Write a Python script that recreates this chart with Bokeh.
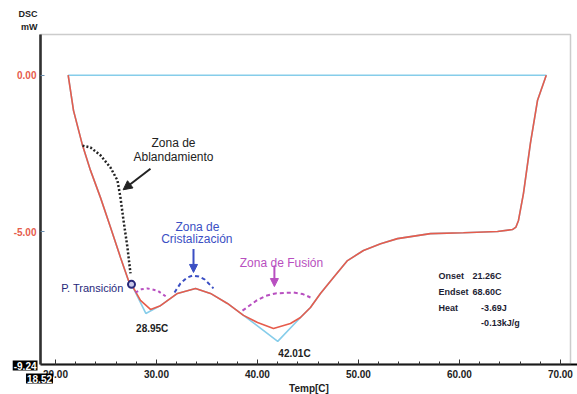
from bokeh.plotting import figure
from bokeh.models import FixedTicker, PrintfTickFormatter, Label, Arrow, NormalHead, Range1d, BoxAnnotation
from bokeh.embed import file_html
from bokeh.resources import INLINE

# ---- measured DSC curve (Temp [C], mW) ----
temp_dsc = [21.26, 21.79, 22.68, 23.47, 24.46, 25.45, 26.44, 27.23, 27.53, 28.42, 29.41, 30.40,
            32.08, 33.87, 35.35, 37.03, 38.62, 40.01, 41.59, 43.27, 44.26, 45.25, 46.24, 47.53,
            48.92, 50.50, 52.20, 53.87, 57.13, 60.40, 63.77, 65.25, 65.60, 65.85, 66.34, 67.03, 67.73, 68.60]
dsc_mw = [0.00, -1.13, -2.24, -3.04, -3.91, -4.86, -5.82, -6.56, -6.68, -7.19, -7.48, -7.36,
          -6.97, -6.81, -6.97, -7.29, -7.67, -7.90, -8.09, -7.93, -7.74, -7.42, -6.97, -6.46,
          -5.92, -5.60, -5.38, -5.22, -5.06, -5.03, -4.99, -4.93, -4.85, -4.64, -3.78, -2.18, -0.81, 0.00]

# ---- baseline / tangent construction (blue) ----
temp_base = [21.26, 21.79, 22.68, 23.47, 24.46, 25.45, 26.44, 27.23, 27.53, 28.95, 30.40, 32.08,
             33.87, 35.35, 37.03, 38.62, 42.01, 44.26, 45.25, 46.24, 47.53, 48.92, 50.50, 52.20, 53.87,
             57.13, 60.40, 63.77, 65.25, 65.60, 65.85, 66.34, 67.03, 67.73, 68.60, 21.26]
base_mw = [0.00, -1.13, -2.24, -3.04, -3.91, -4.86, -5.82, -6.56, -6.68, -7.61, -7.36, -6.97,
           -6.81, -6.97, -7.29, -7.67, -8.50, -7.74, -7.42, -6.97, -6.46, -5.92, -5.60, -5.38, -5.22,
           -5.06, -5.03, -4.99, -4.93, -4.85, -4.64, -3.78, -2.18, -0.81, 0.00, 0.00]

# ---- peaks / transition ----
peak_temps = [28.95, 42.01]
peak_labels = ["28.95C", "42.01C"]
transition_temp = [27.53]
transition_mw = [-6.68]

# ---- axes ----
x_ticks = [20, 30, 40, 50, 60, 70]
x_minor = [22, 24, 26, 28, 32, 34, 36, 38, 42, 44, 46, 48, 52, 54, 56, 58, 62, 64, 66, 68, 70]
y_ticks = [0, -5]
x_min, x_max = 18.52, 71.0
y_min, y_max = -9.24, 1.30

# ---- annotation sketch paths ----
soft_x = [22.68, 23.47, 24.46, 25.45, 26.14, 26.44, 26.74, 27.13, 27.43]
soft_y = [-2.25, -2.31, -2.56, -2.95, -3.36, -3.91, -4.64, -5.50, -6.33]
trans_arc_x = [27.93, 28.50, 29.11, 30.10, 31.09]
trans_arc_y = [-6.94, -6.84, -6.81, -6.88, -7.10]
cryst_arc_x = [31.79, 32.38, 33.00, 33.57, 34.20, 34.76, 35.65]
cryst_arc_y = [-6.94, -6.65, -6.47, -6.40, -6.43, -6.52, -6.81]
fus_arc_x = [38.52, 39.90, 40.80, 41.78, 43.57, 44.50, 45.25]
fus_arc_y = [-7.52, -7.20, -7.05, -6.97, -6.94, -6.99, -7.10]

RED = "#e65c4c"
BLUE = "#86cdea"
NAVY = "#27287a"
CBLUE = "#3b4fc4"
MAG = "#b84fc0"
FONT = "Liberation Sans"

# canvas geometry: plot box from px 40..570 (x) and 34..364 (y) inside a 577x394 canvas
W, H = 577, 394
BL, BR, BT, BB = 40, 570, 34, 364
sx = (BR - BL) / (x_max - x_min)
sy = (BB - BT) / (y_max - y_min)
view_x = (x_min - BL / sx, x_max + (W - BR) / sx)
view_y = (y_min - (H - BB) / sy, y_max + BT / sy)

p = figure(width=W, height=H, output_backend="svg", toolbar_location=None,
           x_range=Range1d(*view_x), y_range=Range1d(*view_y),
           min_border=0, min_border_left=0, min_border_right=0,
           min_border_top=0, min_border_bottom=0)
p.background_fill_color = "white"
p.border_fill_color = "white"
p.outline_line_color = None
p.xgrid.visible = False
p.ygrid.visible = False

# plot box (top / right border)
p.add_layout(BoxAnnotation(left=x_min, right=x_max, bottom=y_min, top=y_max,
                           fill_alpha=0, line_color="#555555", line_width=1.5))

xa = p.xaxis[0]
xa.fixed_location = y_min
xa.bounds = (x_min, view_x[1])
xa.ticker = FixedTicker(ticks=x_ticks, minor_ticks=x_minor)
xa.formatter = PrintfTickFormatter(format="%.2f")
xa.axis_line_color = "black"
xa.axis_line_width = 2
xa.major_tick_in = 5
xa.major_tick_out = 0
xa.minor_tick_in = 3
xa.minor_tick_out = 0
xa.major_tick_line_color = "#333333"
xa.minor_tick_line_color = "#333333"
xa.major_label_text_font = FONT
xa.major_label_text_font_style = "bold"
xa.major_label_text_font_size = "10px"
xa.major_label_text_color = "#222222"
xa.major_label_standoff = 5
xa.axis_label = "Temp[C]"
xa.axis_label_text_font = FONT
xa.axis_label_text_font_style = "bold"
xa.axis_label_text_font_size = "10px"
xa.axis_label_text_color = "#222222"
xa.axis_label_standoff = 2

ya = p.yaxis[0]
ya.fixed_location = x_min
ya.bounds = (y_min, y_max)
ya.ticker = FixedTicker(ticks=y_ticks, minor_ticks=[])
ya.formatter = PrintfTickFormatter(format="%.2f")
ya.axis_line_color = "#222222"
ya.axis_line_width = 2.5
ya.major_tick_in = 4
ya.major_tick_out = 0
ya.major_tick_line_color = "#6a8fb0"
ya.major_label_text_font = FONT
ya.major_label_text_font_style = "bold"
ya.major_label_text_font_size = "10px"
ya.major_label_text_color = RED
ya.major_label_standoff = 4

# curves
p.line(temp_base, base_mw, line_color=BLUE, line_width=1.6)
p.line(temp_dsc, dsc_mw, line_color=RED, line_width=1.6)

# annotation sketches
p.line(soft_x, soft_y, line_color="#222222", line_width=2.5, line_dash="2 2")
p.line(trans_arc_x, trans_arc_y, line_color=MAG, line_width=2, line_dash="3 3")
p.line(cryst_arc_x, cryst_arc_y, line_color=CBLUE, line_width=2, line_dash="4 3")
p.line(fus_arc_x, fus_arc_y, line_color=MAG, line_width=2, line_dash="4 3")
p.scatter(transition_temp, transition_mw, size=7, fill_color="#c8c8e8", line_color=NAVY, line_width=2)

p.add_layout(Arrow(end=NormalHead(size=9, fill_color="#222222", line_color="#222222"),
                   x_start=29.41, y_start=-2.99, x_end=26.70, y_end=-3.66,
                   line_color="#222222", line_width=2))
p.add_layout(Arrow(end=NormalHead(size=8, fill_color=CBLUE, line_color=CBLUE),
                   x_start=33.67, y_start=-5.55, x_end=33.67, y_end=-6.30,
                   line_color=CBLUE, line_width=2))
p.add_layout(Arrow(end=NormalHead(size=8, fill_color=MAG, line_color=MAG),
                   x_start=41.68, y_start=-6.08, x_end=41.68, y_end=-6.75,
                   line_color=MAG, line_width=2))


def lab(x, y, t, color="#222222", size="12px", bold=False, align="center", bg=None):
    kw = dict(x=x, y=y, text=t, text_color=color, text_font=FONT, text_font_size=size,
              text_font_style="bold" if bold else "normal", text_align=align,
              text_baseline="middle")
    if bg is not None:
        kw["background_fill_color"] = bg
        kw["padding"] = 1
    p.add_layout(Label(**kw))


lab(31.69, -2.18, "Zona de")
lab(31.69, -2.60, "Ablandamiento")
lab(34.06, -4.84, "Zona de", color=CBLUE)
lab(34.00, -5.22, "Cristalización", color=CBLUE)
lab(42.38, -5.99, "Zona de Fusión", color=MAG)
lab(26.74, -6.81, "P. Transición", color=NAVY, size="11px", align="right")

lab(29.58, -8.10, peak_labels[0], size="10px", bold=True)
lab(43.67, -8.89, peak_labels[1], size="10px", bold=True)

info_keys = ["Onset", "Endset", "Heat", ""]
info_vals = ["21.26C", "68.60C", "-3.69J", "-0.13kJ/g"]
info_y = [-6.40, -6.94, -7.42, -7.93]
for k, v, yy in zip(info_keys, info_vals, info_y):
    if k:
        lab(57.93, yy, k, color="#1d1d33", size="9px", bold=True, align="left")
    lab(61.30 if v[0] != "-" else 62.15, yy, v, color="#1d1d33", size="9px", bold=True, align="left")

# texts beside the axes
lab(x_min - 3 / sx, y_max + 21 / sy, "DSC", size="9px", bold=True, align="right")
lab(x_min - 3 / sx, y_max + 8 / sy, "mW", size="9px", bold=True, align="right")
lab(x_min - 3 / sx, y_min - 1 / sy, "%.2f" % y_min, color="white", size="10px", bold=True,
    align="right", bg="black")
lab(x_min - 1 / sx, y_min - 14 / sy, "%.2f" % x_min, color="white", size="10px", bold=True,
    align="center", bg="black")

open("out.html", "w").write(file_html(p, INLINE))
